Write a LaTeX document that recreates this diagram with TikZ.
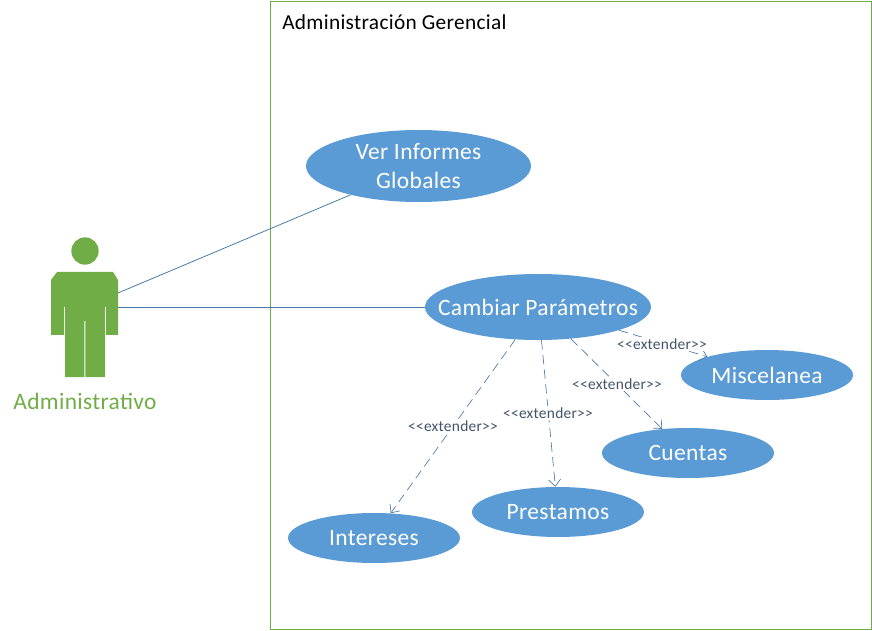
\documentclass[tikz,border=0pt]{standalone}
\usepackage{fontspec}
\setmainfont{Carlito}
\usetikzlibrary{shapes.geometric,arrows.meta}
\definecolor{ublue}{HTML}{5B9BD5}
\definecolor{ugreen}{HTML}{70AD47}
\definecolor{uline}{HTML}{4A7BA8}
\definecolor{uslate}{HTML}{44546A}
\newfontfamily\widefont[LetterSpace=1.5]{Carlito}
\tikzset{
  usecase/.style={ellipse,fill=ublue,text=white,inner xsep=-30pt,inner ysep=-12pt,align=center,font=\widefont\fontsize{17.6}{22}\selectfont},
  assoc/.style={draw=uline,line width=0.6pt},
  extline/.style={draw=uline,line width=0.5pt,dash pattern=on 7pt off 4pt,-{Straight Barb[length=5pt,width=9pt,line width=0.5pt]}},
  extlabel/.style={fill=white,inner sep=1pt,text=uslate,font=\widefont\fontsize{11.6}{13}\selectfont},
}
\begin{document}
\begin{tikzpicture}[x=0.75pt,y=-0.75pt]
\useasboundingbox (0,0) rectangle (872,631);
\node[draw=ugreen,line width=0.7pt,minimum width=601*0.75pt,minimum height=628*0.75pt,inner sep=0pt] (system) at (570.5,315.5) {};
\node[anchor=west,inner sep=0pt,font=\widefont\fontsize{16}{18}\selectfont] (systitle) at (282,22) {Administración Gerencial};
% actor
\node[circle,fill=ugreen,minimum size=20.5pt,inner sep=0pt] (head) at (85,251) {};
\fill[ugreen] (57,272) -- (113,272) -- (118,280) -- (118,335) -- (106,335) -- (106,307) -- (105,307) -- (105,377) -- (85.4,377) -- (85.4,321) -- (84.4,321) -- (84.4,377) -- (65,377) -- (65,307) -- (64,307) -- (64,335) -- (51,335) -- (51,280) -- cycle;
\node[inner sep=0pt,text=ugreen,font=\widefont\fontsize{17.6}{20}\selectfont] (actorname) at (85,401) {Administrativo};
\coordinate (actorA) at (118,293);
\coordinate (actorB) at (118,307);
% use cases
\node[usecase,minimum width=225*0.75pt,minimum height=72*0.75pt] (ver) at (418.5,166) {Ver Informes\\Globales};
\node[usecase,minimum width=226*0.75pt,minimum height=66*0.75pt] (cambiar) at (538,307) {Cambiar Parámetros};
\node[usecase,minimum width=172*0.75pt,minimum height=50*0.75pt] (misc) at (767,375) {Miscelanea};
\node[usecase,minimum width=172*0.75pt,minimum height=50*0.75pt] (cuentas) at (688,453) {Cuentas};
\node[usecase,minimum width=172*0.75pt,minimum height=50*0.75pt] (prest) at (558,512) {Prestamos};
\node[usecase,minimum width=172*0.75pt,minimum height=50*0.75pt] (inter) at (374,538) {Intereses};
% connectors
\draw[assoc] (actorA) -- (ver.203);
\draw[assoc] (actorB) -- (cambiar.180);
\draw[extline] (cambiar.-125.7) -- (inter.56);
\draw[extline] (cambiar.-84.8) -- (prest.96.6);
\draw[extline] (cambiar.-44) -- (cuentas.137);
\draw[extline] (cambiar.-16.2) -- (misc.163);
% labels
\node[extlabel] (l1) at (453,426) {<{}<extender>{}>};
\node[extlabel] (l2) at (548,413) {<{}<extender>{}>};
\node[extlabel] (l3) at (617,384) {<{}<extender>{}>};
\node[extlabel] (l4) at (662,344) {<{}<extender>{}>};
\end{tikzpicture}
\end{document}
